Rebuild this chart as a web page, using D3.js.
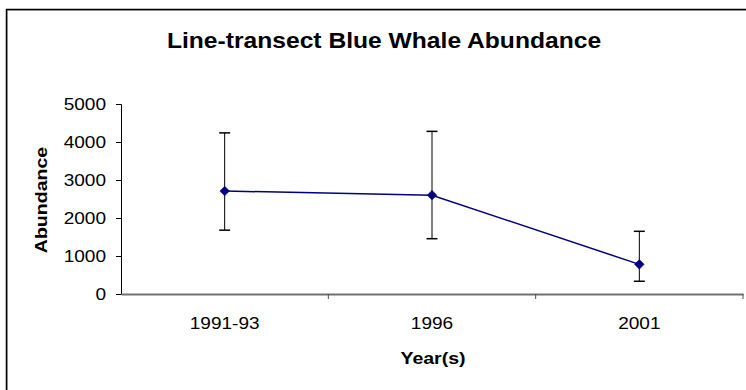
<!DOCTYPE html>
<html><head><meta charset="utf-8">
<script src="https://cdn.jsdelivr.net/npm/d3@7"></script>
<style>html,body{margin:0;padding:0;background:#fff;}svg{display:block;}</style>
</head><body>
<svg id="chart" width="746" height="390"></svg>
<script>
const categories = ["1991-93", "1996", "2001"];
const abundance = [2710, 2600, 780];
const lowerCI = [1680, 1455, 335];
const upperCI = [4240, 4280, 1650];
const yTicks = [0, 1000, 2000, 3000, 4000, 5000];
const titleText = "Line-transect Blue Whale Abundance";
const xTitle = "Year(s)";
const yTitle = "Abundance";

const svg = d3.select("#chart");
const FONT = "'Liberation Sans', Arial, sans-serif";
const margin = {left: 121, right: 3, top: 104, bottom: 96};
const W = 746, H = 390;

// outer border
svg.append("rect").attr("x", 7.5).attr("y", 10.5).attr("width", 800).attr("height", 500)
  .attr("fill", "none").attr("stroke", "#bbb").attr("stroke-width", 1);
svg.append("rect").attr("x", 6.5).attr("y", 9.5).attr("width", 800).attr("height", 500)
  .attr("fill", "none").attr("stroke", "#000").attr("stroke-width", 1.5);

const x = d3.scaleBand().domain(categories).range([margin.left, W - margin.right]).padding(0);
const y = d3.scaleLinear().domain([0, 5000]).range([H - margin.bottom, margin.top]);

function wideText(g, px, py, txt, size, weight, sx, anchor, rot) {
  const t = g.append("g").attr("transform", `translate(${px},${py}) rotate(${rot||0}) scale(${sx},1)`)
    .append("text").attr("x", 0).attr("y", 0).attr("text-anchor", anchor)
    .attr("font-family", FONT).attr("font-size", size).attr("font-weight", weight)
    .attr("fill", "#000").text(txt);
  return t;
}

// y axis
const yAxis = svg.append("g").attr("transform", `translate(${margin.left},0)`)
  .call(d3.axisLeft(y).tickValues(yTicks).tickSize(5).tickFormat(""));
yAxis.select(".domain").attr("stroke", "#000").attr("stroke-width", 1);
yAxis.selectAll(".tick line").attr("stroke", "#000");
yTicks.forEach(v => wideText(svg, 106, y(v) + 6, String(v), 17, "normal", 1.12, "end"));

// x axis
const xAxis = svg.append("g").attr("transform", `translate(0,${y(0)})`)
  .call(d3.axisBottom(x).tickSize(0).tickFormat(""));
xAxis.select(".domain").attr("stroke", "#707070").attr("stroke-width", 2);
const bounds = categories.map(c => x(c)).concat([x(categories[categories.length-1]) + x.bandwidth()]);
svg.append("g").selectAll("line").data(bounds.slice(1)).join("line")
  .attr("x1", d => d).attr("x2", d => d).attr("y1", y(0)).attr("y2", y(0) + 5)
  .attr("stroke", "#505050").attr("stroke-width", 1);
categories.forEach(c => wideText(svg, x(c) + x.bandwidth()/2, 329, c, 17, "normal", 1.12, "middle"));

// error bars
const cx = c => x(c) + x.bandwidth()/2;
const eb = svg.append("g").attr("stroke", "#000").attr("stroke-width", 1);
categories.forEach((c, i) => {
  eb.append("line").attr("x1", cx(c)).attr("x2", cx(c)).attr("y1", y(lowerCI[i])).attr("y2", y(upperCI[i]));
  [lowerCI[i], upperCI[i]].forEach(v => eb.append("line")
    .attr("x1", cx(c) - 5.5).attr("x2", cx(c) + 5.5).attr("y1", y(v)).attr("y2", y(v)).attr("stroke-width", 1.5));
});

// line
svg.append("path").datum(abundance)
  .attr("d", d3.line().x((d, i) => cx(categories[i])).y(d => y(d)))
  .attr("fill", "none").attr("stroke", "#000080").attr("stroke-width", 1.5);

// markers
svg.append("g").selectAll("path").data(abundance).join("path")
  .attr("transform", (d, i) => `translate(${cx(categories[i])},${y(d)})`)
  .attr("d", d3.symbol().type(d3.symbolDiamond2).size(60))
  .attr("fill", "#000080").attr("stroke", "#000080").attr("stroke-width", 0.5);

// titles
wideText(svg, 384, 48, titleText, 22, "bold", 1.12, "middle");
wideText(svg, 433, 364, xTitle, 17, "bold", 1.15, "middle");
wideText(svg, 47, 200, yTitle, 17, "bold", 1.15, "middle", -90);
</script>
</body></html>
